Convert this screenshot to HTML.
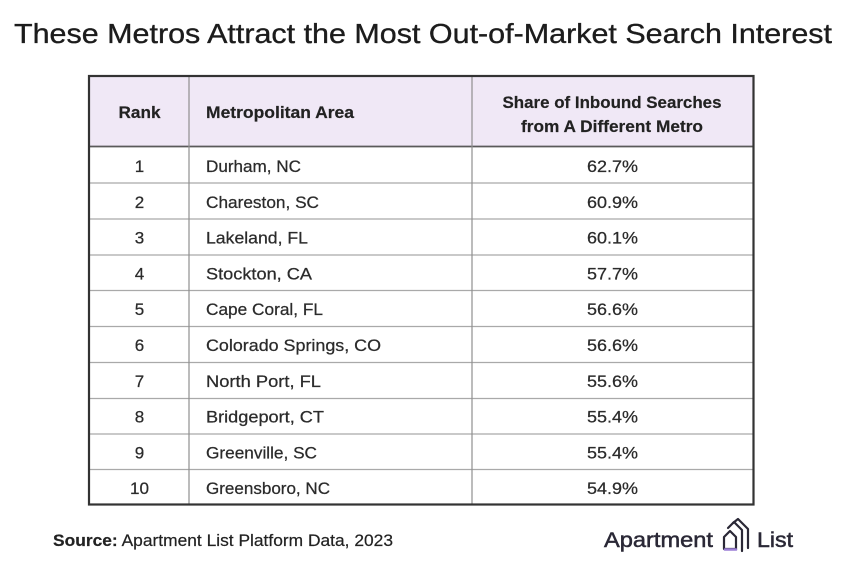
<!DOCTYPE html>
<html>
<head>
<meta charset="utf-8">
<style>
  html,body{margin:0;padding:0;background:#fff;}
  svg{display:block;}
  text{font-family:"Liberation Sans", Arial, sans-serif;}
</style>
</head>
<body>
<svg width="848" height="569" viewBox="0 0 848 569" xmlns="http://www.w3.org/2000/svg">
  <rect x="0" y="0" width="848" height="569" fill="#ffffff"/>
  <!-- Title -->
  <text x="14" y="43" font-size="28" fill="#1c1c1c" stroke="#1c1c1c" stroke-width="0.35" textLength="818" lengthAdjust="spacingAndGlyphs">These Metros Attract the Most Out-of-Market Search Interest</text>

  <!-- Header background -->
  <rect x="90" y="77" width="663" height="70" fill="#f0e8f6"/>

  <!-- Row lines -->
  <g stroke="#a9a9a9" stroke-width="1.2">
    <line x1="90" y1="183" x2="753" y2="183"/>
    <line x1="90" y1="219" x2="753" y2="219"/>
    <line x1="90" y1="255" x2="753" y2="255"/>
    <line x1="90" y1="290.5" x2="753" y2="290.5"/>
    <line x1="90" y1="326.5" x2="753" y2="326.5"/>
    <line x1="90" y1="362.5" x2="753" y2="362.5"/>
    <line x1="90" y1="398.5" x2="753" y2="398.5"/>
    <line x1="90" y1="434" x2="753" y2="434"/>
    <line x1="90" y1="469.5" x2="753" y2="469.5"/>
  </g>
  <line x1="90" y1="146.5" x2="753" y2="146.5" stroke="#5a5a5a" stroke-width="1.8"/>
  <!-- Column dividers -->
  <g stroke="#8f8f8f" stroke-width="1.2">
    <line x1="189" y1="77" x2="189" y2="504"/>
    <line x1="472" y1="77" x2="472" y2="504"/>
  </g>
  <!-- Outer border -->
  <rect x="89" y="76" width="664.5" height="428.5" fill="none" stroke="#333333" stroke-width="2.2"/>

  <!-- Header text -->
  <g font-weight="bold" font-size="16.5" fill="#222" stroke="#222" stroke-width="0.2">
    <text x="139.5" y="118" text-anchor="middle" textLength="42" lengthAdjust="spacingAndGlyphs">Rank</text>
    <text x="206" y="118" textLength="148" lengthAdjust="spacingAndGlyphs">Metropolitan Area</text>
    <text x="612" y="108" text-anchor="middle" textLength="219" lengthAdjust="spacingAndGlyphs">Share of Inbound Searches</text>
    <text x="612" y="132" text-anchor="middle" textLength="182" lengthAdjust="spacingAndGlyphs">from A Different Metro</text>
  </g>

  <!-- Rows -->
  <g font-size="17" fill="#2b2b2b" stroke="#2b2b2b" stroke-width="0.25">
    <text x="139.5" y="172" text-anchor="middle">1</text>
    <text x="206" y="172" textLength="95" lengthAdjust="spacingAndGlyphs">Durham, NC</text>
    <text x="612.5" y="172" text-anchor="middle" textLength="51" lengthAdjust="spacingAndGlyphs">62.7%</text>

    <text x="139.5" y="207.8" text-anchor="middle">2</text>
    <text x="206" y="207.8" textLength="113" lengthAdjust="spacingAndGlyphs">Chareston, SC</text>
    <text x="612.5" y="207.8" text-anchor="middle" textLength="51" lengthAdjust="spacingAndGlyphs">60.9%</text>

    <text x="139.5" y="243.6" text-anchor="middle">3</text>
    <text x="206" y="243.6" textLength="102" lengthAdjust="spacingAndGlyphs">Lakeland, FL</text>
    <text x="612.5" y="243.6" text-anchor="middle" textLength="51" lengthAdjust="spacingAndGlyphs">60.1%</text>

    <text x="139.5" y="279.4" text-anchor="middle">4</text>
    <text x="206" y="279.4" textLength="106" lengthAdjust="spacingAndGlyphs">Stockton, CA</text>
    <text x="612.5" y="279.4" text-anchor="middle" textLength="51" lengthAdjust="spacingAndGlyphs">57.7%</text>

    <text x="139.5" y="315.2" text-anchor="middle">5</text>
    <text x="206" y="315.2" textLength="117" lengthAdjust="spacingAndGlyphs">Cape Coral, FL</text>
    <text x="612.5" y="315.2" text-anchor="middle" textLength="51" lengthAdjust="spacingAndGlyphs">56.6%</text>

    <text x="139.5" y="351" text-anchor="middle">6</text>
    <text x="206" y="351" textLength="175" lengthAdjust="spacingAndGlyphs">Colorado Springs, CO</text>
    <text x="612.5" y="351" text-anchor="middle" textLength="51" lengthAdjust="spacingAndGlyphs">56.6%</text>

    <text x="139.5" y="386.8" text-anchor="middle">7</text>
    <text x="206" y="386.8" textLength="115" lengthAdjust="spacingAndGlyphs">North Port, FL</text>
    <text x="612.5" y="386.8" text-anchor="middle" textLength="51" lengthAdjust="spacingAndGlyphs">55.6%</text>

    <text x="139.5" y="422.6" text-anchor="middle">8</text>
    <text x="206" y="422.6" textLength="118" lengthAdjust="spacingAndGlyphs">Bridgeport, CT</text>
    <text x="612.5" y="422.6" text-anchor="middle" textLength="51" lengthAdjust="spacingAndGlyphs">55.4%</text>

    <text x="139.5" y="458.4" text-anchor="middle">9</text>
    <text x="206" y="458.4" textLength="111" lengthAdjust="spacingAndGlyphs">Greenville, SC</text>
    <text x="612.5" y="458.4" text-anchor="middle" textLength="51" lengthAdjust="spacingAndGlyphs">55.4%</text>

    <text x="139.5" y="494.2" text-anchor="middle" textLength="19" lengthAdjust="spacingAndGlyphs">10</text>
    <text x="206" y="494.2" textLength="124" lengthAdjust="spacingAndGlyphs">Greensboro, NC</text>
    <text x="612.5" y="494.2" text-anchor="middle" textLength="51" lengthAdjust="spacingAndGlyphs">54.9%</text>
  </g>

  <!-- Source -->
  <text x="53" y="546" font-size="16.5" fill="#222" stroke="#222" stroke-width="0.2" textLength="340" lengthAdjust="spacingAndGlyphs"><tspan font-weight="bold">Source:</tspan> Apartment List Platform Data, 2023</text>

  <!-- Logo -->
  <text x="604" y="547" font-size="21" fill="#2a2836" stroke="#2a2836" stroke-width="0.5" textLength="109" lengthAdjust="spacingAndGlyphs">Apartment</text>
  <g fill="none" stroke-linecap="round" stroke-linejoin="round">
    <path d="M724,549 L724,537 L730,531 L736,537 L736,549 Z" stroke="#2a2836" stroke-width="2.2"/>
    <path d="M725,549.5 L736,549.5" stroke="#9b7fd6" stroke-width="2.6"/>
    <path d="M728,528 L734,522 L742,530 L742,551" stroke="#2a2836" stroke-width="2.2"/>
    <path d="M733,523 L738,519 L748,529 L748,548" stroke="#2a2836" stroke-width="2.2"/>
  </g>
  <text x="757" y="547" font-size="21" fill="#2a2836" stroke="#2a2836" stroke-width="0.5" textLength="36" lengthAdjust="spacingAndGlyphs">List</text>
</svg>
</body>
</html>
